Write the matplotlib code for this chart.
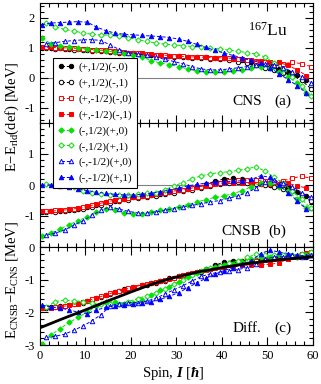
import matplotlib
matplotlib.use('Agg')
import matplotlib.pyplot as plt
import numpy as np
from matplotlib.lines import Line2D

plt.rcParams.update({
    'font.family': ['Liberation Serif', 'DejaVu Serif'],
    'mathtext.fontset': 'custom',
    'mathtext.rm': 'Liberation Serif',
    'mathtext.it': 'Liberation Serif:italic:bold',
    'mathtext.bf': 'Liberation Serif:bold',
    'axes.unicode_minus': False,
})

# ---------------- data ----------------
spin0 = np.arange(0.5, 59, 2)   # 0.5 ... 58.5
spin1 = np.arange(1.5, 60, 2)   # 1.5 ... 59.5

labels = ['(+,1/2)(-,0)', '(+,1/2)(-,1)', '(+,-1/2)(-,0)', '(+,-1/2)(-,1)',
          '(-,1/2)(+,0)', '(-,1/2)(+,1)', '(-,-1/2)(+,0)', '(-,-1/2)(+,1)']

# panel (a): E - E_rld(def), CNS
a_pp0 = [1.00, 1.00, 0.99, 0.98, 0.96, 0.94, 0.92, 0.90, 0.87, 0.85, 0.82, 0.80, 0.78, 0.76, 0.74,
         0.72, 0.71, 0.70, 0.69, 0.68, 0.66, 0.64, 0.60, 0.53, 0.45, 0.38, 0.30, 0.20, 0.10, -0.05]
a_pp1 = [0.99, 0.98, 0.97, 0.95, 0.93, 0.91, 0.89, 0.86, 0.84, 0.82, 0.79, 0.77, 0.75, 0.73, 0.71,
         0.69, 0.67, 0.66, 0.64, 0.62, 0.59, 0.55, 0.50, 0.43, 0.35, 0.27, 0.18, 0.08, -0.08, -0.35]
a_pm0 = [1.02, 1.01, 1.00, 0.99, 0.97, 0.95, 0.93, 0.90, 0.88, 0.85, 0.83, 0.80, 0.78, 0.76, 0.74,
         0.72, 0.70, 0.69, 0.68, 0.67, 0.66, 0.64, 0.60, 0.57, 0.52, 0.47, 0.48, 0.52, 0.48, 0.38]
a_pm1 = [1.03, 1.02, 1.01, 1.00, 0.98, 0.96, 0.94, 0.92, 0.89, 0.87, 0.84, 0.82, 0.79, 0.77, 0.75,
         0.73, 0.71, 0.70, 0.69, 0.68, 0.67, 0.65, 0.63, 0.60, 0.57, 0.55, 0.52, 0.42, 0.28, 0.08]
a_mp0 = [1.32, 1.15, 1.08, 1.03, 1.00, 0.97, 0.93, 0.90, 0.87, 0.83, 0.78, 0.70, 0.58, 0.50, 0.45,
         0.38, 0.30, 0.24, 0.21, 0.20, 0.21, 0.24, 0.28, 0.33, 0.37, 0.35, 0.20, 0.05, -0.15, -0.50]
a_mp1 = [1.85, 1.70, 1.62, 1.57, 1.50, 1.46, 1.44, 1.42, 1.40, 1.35, 1.28, 1.22, 1.17, 1.13, 1.10,
         1.08, 1.05, 1.03, 1.00, 0.97, 0.93, 0.89, 0.85, 0.80, 0.70, 0.50, 0.30, 0.05, -0.25, -0.60]
a_mm0 = [1.15, 1.18, 1.22, 1.25, 1.27, 1.28, 1.25, 1.10, 0.95, 0.85, 0.80, 0.76, 0.70, 0.62, 0.55,
         0.47, 0.38, 0.30, 0.27, 0.27, 0.30, 0.34, 0.38, 0.42, 0.48, 0.45, 0.35, 0.20, 0.05, -0.15]
a_mm1 = [1.78, 1.83, 1.85, 1.86, 1.88, 1.86, 1.70, 1.58, 1.50, 1.46, 1.44, 1.42, 1.40, 1.38, 1.35,
         1.30, 1.22, 1.12, 1.02, 0.92, 0.83, 0.75, 0.67, 0.60, 0.50, 0.35, 0.15, -0.05, -0.25, -0.50]

# panel (b): E - E_rld(def), CNSB
b_pp0 = [-0.86, -0.85, -0.83, -0.80, -0.76, -0.70, -0.63, -0.56, -0.50, -0.45, -0.40, -0.36, -0.32, -0.28, -0.22,
         -0.17, -0.12, -0.06, 0.02, 0.12, 0.20, 0.22, 0.18, 0.10, 0.04, 0.00, -0.03, -0.08, -0.22, -0.35]
b_pp1 = [-0.87, -0.86, -0.84, -0.81, -0.77, -0.71, -0.65, -0.58, -0.52, -0.47, -0.42, -0.38, -0.34, -0.30, -0.25,
         -0.20, -0.15, -0.10, -0.04, 0.03, 0.08, 0.10, 0.08, 0.04, 0.00, -0.05, -0.12, -0.20, -0.35, -0.52]
b_pm0 = [-0.83, -0.82, -0.80, -0.76, -0.71, -0.65, -0.58, -0.52, -0.47, -0.42, -0.38, -0.34, -0.30, -0.25, -0.20,
         -0.15, -0.10, -0.05, 0.00, 0.06, 0.12, 0.15, 0.16, 0.15, 0.12, 0.10, 0.14, 0.22, 0.28, 0.22]
b_pm1 = [-0.85, -0.84, -0.82, -0.79, -0.75, -0.69, -0.62, -0.55, -0.49, -0.44, -0.39, -0.35, -0.31, -0.27, -0.22,
         -0.17, -0.12, -0.07, -0.02, 0.03, 0.07, 0.08, 0.07, 0.05, 0.03, 0.02, 0.03, 0.05, -0.02, -0.10]
b_mp0 = [-1.65, -1.55, -1.42, -1.28, -1.15, -1.02, -0.88, -0.78, -0.80, -0.90, -0.93, -0.93, -0.88, -0.82, -0.77,
         -0.70, -0.63, -0.55, -0.47, -0.40, -0.35, -0.28, -0.18, -0.05, 0.05, 0.05, -0.05, -0.20, -0.45, -0.75]
b_mp1 = [0.02, 0.03, 0.00, -0.08, -0.18, -0.25, -0.30, -0.33, -0.33, -0.32, -0.30, -0.27, -0.25, -0.15, -0.03,
         0.08, 0.20, 0.30, 0.36, 0.40, 0.43, 0.47, 0.53, 0.58, 0.45, 0.25, 0.05, -0.20, -0.45, -0.75]
b_mm0 = [-1.62, -1.55, -1.45, -1.30, -1.15, -0.98, -0.82, -0.70, -0.78, -0.85, -0.90, -0.90, -0.87, -0.82, -0.76,
         -0.71, -0.66, -0.60, -0.55, -0.50, -0.43, -0.35, -0.25, -0.10, 0.10, 0.15, 0.05, -0.05, -0.25, -0.40]
b_mm1 = [0.00, 0.00, -0.02, -0.06, -0.12, -0.18, -0.23, -0.27, -0.30, -0.32, -0.32, -0.30, -0.27, -0.22, -0.16,
         -0.10, -0.03, 0.02, 0.06, 0.09, 0.11, 0.12, 0.14, 0.18, 0.30, 0.25, 0.00, -0.25, -0.50, -0.78]

# panel (c): reference smooth curve
ref_spin = [0, 5, 10, 15, 20, 25, 30, 35, 40, 45, 50, 55, 60]
ref_diff = [-2.48, -2.20, -1.93, -1.65, -1.38, -1.12, -0.92, -0.76, -0.63, -0.52, -0.43, -0.36, -0.30]

# ---------------- styles ----------------
GREEN = '#00e400'
styles = [  # spin grid, colour, marker, filled
    (spin0, 'black', 'o', True),
    (spin1, 'black', 'o', False),
    (spin1, 'red', 's', False),
    (spin0, 'red', 's', True),
    (spin0, GREEN, 'D', True),
    (spin1, GREEN, 'D', False),
    (spin1, 'blue', '^', False),
    (spin0, 'blue', '^', True),
]
A = [a_pp0, a_pp1, a_pm0, a_pm1, a_mp0, a_mp1, a_mm0, a_mm1]
B = [b_pp0, b_pp1, b_pm0, b_pm1, b_mp0, b_mp1, b_mm0, b_mm1]
C = [np.array(b) - np.array(a) for a, b in zip(A, B)]

fig = plt.figure(figsize=(3.21, 3.84), dpi=100)
L, W = 39.5 / 321, (313 - 39.5) / 321
H = 384.0
axa = fig.add_axes([L, 1 - 123 / H, W, 120 / H])
axb = fig.add_axes([L, 1 - 247 / H, W, 124 / H])
axc = fig.add_axes([L, 1 - 345 / H, W, 98 / H])


def mstyle(col, mk, filled):
    ms = 2.7 if mk == 'D' else 3.2
    return dict(color=col, marker=mk, ms=ms, mfc=col if filled else 'white',
                mec=col, mew=0.7, lw=0.7, ls=(0, (3.5, 2)))


for ax, data in [(axa, A), (axb, B), (axc, C)]:
    for (sp, col, mk, filled), y in zip(styles, data):
        ax.plot(sp, y, **mstyle(col, mk, filled))
    ax.set_xlim(0, 60)
    ax.xaxis.set_major_locator(plt.MultipleLocator(10))
    ax.xaxis.set_minor_locator(plt.MultipleLocator(2))
    ax.yaxis.set_minor_locator(plt.MultipleLocator(0.2))
    ax.tick_params(which='both', direction='in', top=True, right=True, labelsize=9, width=0.8)
    ax.tick_params(which='major', length=6)
    ax.tick_params(which='minor', length=3)
    for s in ax.spines.values():
        s.set_linewidth(0.8)

axa.plot([0, 51], [0, 0], color='gray', lw=0.8, zorder=0)
axb.plot([0, 51], [0, 0], color='gray', lw=0.8, zorder=0)
axc.plot(ref_spin, ref_diff, color='black', lw=2.0, zorder=5)

axa.set_ylim(-1.5, 2.5)
axa.set_yticks([-1, 0, 1, 2])
axb.set_ylim(-2, 2)
axb.set_yticks([-1, 0, 1])
axc.set_ylim(-3, 0)
axc.set_yticks([-3, -2, -1, 0])
axa.tick_params(labelbottom=False)
axb.tick_params(labelbottom=False)

axa.text(45.7, 1.42, r'$^{\rm 167}$Lu', fontsize=12.5, ha='left', va='baseline')
axa.text(42.4, -0.89, 'CNS', fontsize=11, ha='left', va='baseline')
axa.text(51.6, -0.89, '(a)', fontsize=11, ha='left', va='baseline')
axb.text(48.6, -1.6, 'CNSB', fontsize=11, ha='right', va='baseline')
axb.text(50.2, -1.6, '(b)', fontsize=11, ha='left', va='baseline')
axc.text(42.4, -2.59, 'Diff.', fontsize=11, ha='left', va='baseline')
axc.text(51.6, -2.59, '(c)', fontsize=11, ha='left', va='baseline')

fig.text(0.037, 1 - 117 / H, r'E$-$E$_{\rm rld}$(def) [MeV]', rotation=90,
         ha='center', va='center', fontsize=10.5)
fig.text(0.037, 1 - 280 / H, r'E$_{\rm CNSB}$$-$E$_{\rm CNS}$ [MeV]', rotation=90,
         ha='center', va='center', fontsize=10.5)
fig.text(173 / 321, 1 - 373 / H, r'Spin, $I$ [$\hbar$]', ha='center', va='center', fontsize=10.5)

handles = [Line2D([], [], **mstyle(col, mk, filled)) for (sp, col, mk, filled) in styles]
leg = fig.legend(handles, labels, loc='upper left', bbox_to_anchor=(53 / 321, 1 - 58 / H),
                 bbox_transform=fig.transFigure, fontsize=8, numpoints=2, handlelength=1.5,
                 handletextpad=0.4, labelspacing=0.52, borderpad=0.4, borderaxespad=0,
                 fancybox=False, framealpha=1, edgecolor='black')
leg.get_frame().set_linewidth(0.8)

fig.savefig('out.png', dpi=100)
